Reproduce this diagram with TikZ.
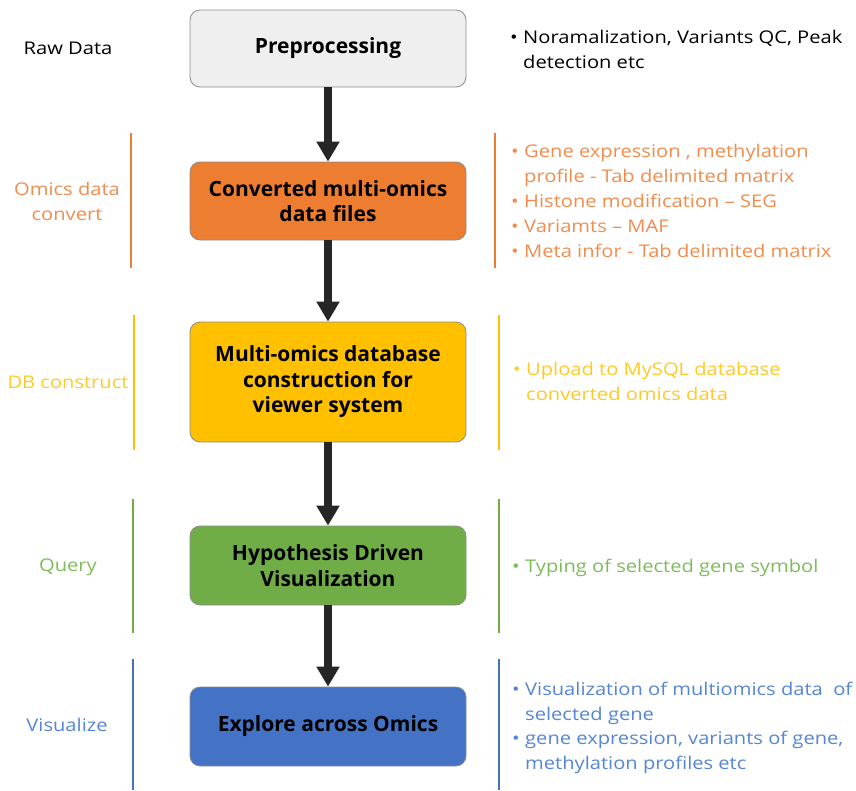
\documentclass[tikz,border=0pt]{standalone}
\usepackage{fontspec}
\setmainfont{Open Sans}
\newfontfamily\sidefont{Open Sans}[FakeStretch=1.15]
\usetikzlibrary{arrows.meta}
\definecolor{corange}{HTML}{ED7D31}
\definecolor{cyellow}{HTML}{FFC000}
\definecolor{cgreen}{HTML}{70AD47}
\definecolor{cblue}{HTML}{4472C4}
\definecolor{tblue}{HTML}{5585D5}
\definecolor{torange}{HTML}{F08C4E}
\definecolor{tyellow}{HTML}{FFC926}
\definecolor{tgreen}{HTML}{7DBB5A}
\definecolor{cgray}{HTML}{EFEFEF}
\definecolor{cdark}{HTML}{262626}
\tikzset{
  box/.style={draw=black!45, line width=0.8pt, rounded corners=10pt, minimum width=276pt, inner sep=0pt, align=center, font=\fontsize{21}{25.5}\selectfont\bfseries, text=black},
  arr/.style={draw=cdark, line width=8pt, -{Triangle[width=22pt,length=20pt]}},
  side/.style={anchor=base west, inner sep=0pt, font=\sidefont\fontsize{17.5}{22}\selectfont},
  lab/.style={anchor=base, inner sep=0pt, font=\sidefont\fontsize{17.5}{22}\selectfont},
  sep/.style={line width=1.3pt}
}
\begin{document}
\begin{tikzpicture}[x=1pt,y=-1pt]
\useasboundingbox (0,0) rectangle (856,790);
% boxes
\node[box, fill=cgray, minimum height=77pt] (pre) at (328,48.5) {Preprocessing};
\node[box, fill=corange, minimum height=78pt] (conv) at (328,201) {Converted multi-omics\\data files};
\node[box, fill=cyellow, minimum height=120pt] (db) at (328,382) {Multi-omics database\\construction for\\viewer system};
\node[box, fill=cgreen, minimum height=79pt] (hyp) at (328,565.5) {Hypothesis Driven\\Visualization};
\node[box, fill=cblue, minimum height=79pt] (exp) at (328,726.5) {Explore across Omics};
% arrows
\draw[arr] (pre.south) -- (conv.north);
\draw[arr] (conv.south) -- (db.north);
\draw[arr] (db.south) -- (hyp.north);
\draw[arr] (hyp.south) -- (exp.north);
% left labels
\node[lab] (l1) at (68,54) {Raw Data};
\node[lab, text=torange] (l2a) at (67,195) {Omics data};
\node[lab, text=torange] (l2b) at (67,220) {convert};
\node[lab, text=tyellow] (l3) at (68,388) {DB construct};
\node[lab, text=tgreen] (l4) at (68,571) {Query};
\node[lab, text=tblue] (l5) at (67,731) {Visualize};
% separator lines
\coordinate (a1) at (131,133); \coordinate (a2) at (131,268);
\coordinate (b1) at (134,315); \coordinate (b2) at (134,450);
\coordinate (c1) at (133,499); \coordinate (c2) at (133,633);
\coordinate (d1) at (133,659); \coordinate (d2) at (133,790);
\coordinate (e1) at (495,133); \coordinate (e2) at (495,268);
\coordinate (f1) at (499,315); \coordinate (f2) at (499,450);
\coordinate (g1) at (499,499); \coordinate (g2) at (499,633);
\coordinate (h1) at (499,659); \coordinate (h2) at (499,790);
\draw[sep, corange] (a1) -- (a2);
\draw[sep, cyellow] (b1) -- (b2);
\draw[sep, cgreen] (c1) -- (c2);
\draw[sep, cblue] (d1) -- (d2);
\draw[sep, corange] (e1) -- (e2);
\draw[sep, cyellow] (f1) -- (f2);
\draw[sep, cgreen] (g1) -- (g2);
\draw[sep, cblue] (h1) -- (h2);
% right texts
\node[side] (k0) at (510,43) {•};
\node[side] (k1) at (523,43) {Noramalization, Variants QC, Peak};
\node[side] (k2) at (523,68) {detection etc};
\begin{scope}[text=torange]
\node[side] (o0) at (511,157) {•};
\node[side] (o1) at (524,157) {Gene expression , methylation};
\node[side] (o2) at (524,182) {profile - Tab delimited matrix};
\node[side] (o3) at (511,207) {•};
\node[side] (o4) at (524,207) {Histone modification – SEG};
\node[side] (o5) at (511,232) {•};
\node[side] (o6) at (524,232) {Variamts – MAF};
\node[side] (o7) at (511,257) {•};
\node[side] (o8) at (524,257) {Meta infor - Tab delimited matrix};
\end{scope}
\begin{scope}[text=tyellow]
\node[side] (y0) at (513,375) {•};
\node[side] (y1) at (526,375) {Upload to MySQL database};
\node[side] (y2) at (526,400) {converted omics data};
\end{scope}
\begin{scope}[text=tgreen]
\node[side] (g0) at (512,572) {•};
\node[side] (g1t) at (525,572) {Typing of selected gene symbol};
\end{scope}
\begin{scope}[text=tblue]
\node[side] (b0) at (512,695) {•};
\node[side] (b1t) at (525,695) {Visualization of multiomics data\ \ of};
\node[side] (b2t) at (525,720) {selected gene};
\node[side] (b3) at (512,744) {•};
\node[side] (b4) at (525,744) {gene expression, variants of gene,};
\node[side] (b5) at (525,769) {methylation profiles etc};
\end{scope}
\end{tikzpicture}
\end{document}
